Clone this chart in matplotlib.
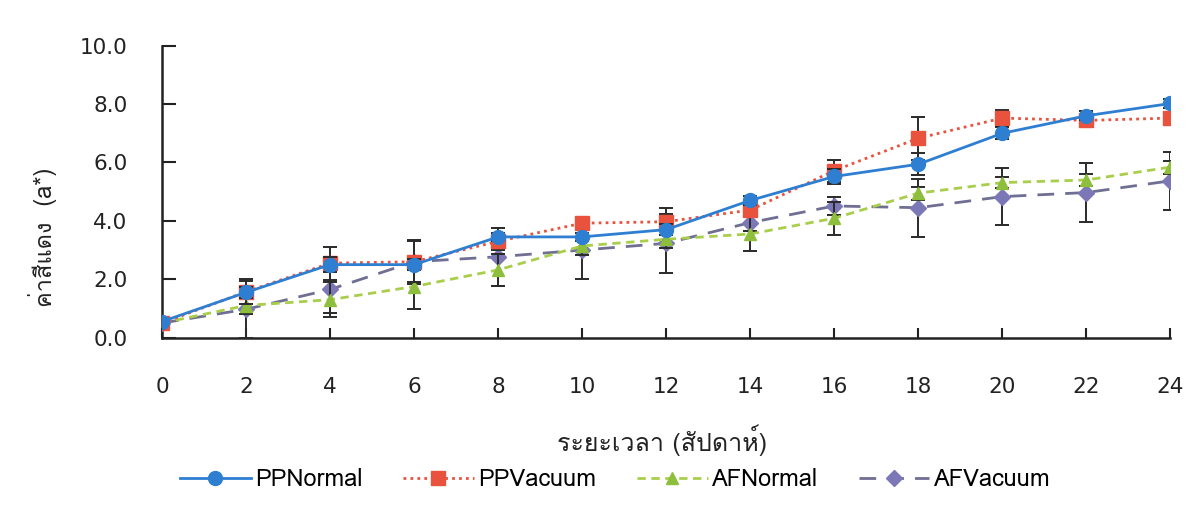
import matplotlib
matplotlib.use("Agg")
import matplotlib.pyplot as plt
from matplotlib import font_manager as fm
from matplotlib.ft2font import FT2Font
from matplotlib.lines import Line2D

# ---------------- data ----------------
weeks = [0, 2, 4, 6, 8, 10, 12, 14, 16, 18, 20, 22, 24]
xtick_labels = ["0", "2", "4", "6", "8", "10", "12", "14", "16", "18", "20", "22", "24"]

pp_normal = [0.55, 1.55, 2.5, 2.5, 3.45, 3.45, 3.7, 4.7, 5.52, 5.94, 7.0, 7.6, 8.02]
pp_vacuum = [0.5, 1.57, 2.55, 2.6, 3.3, 3.92, 3.97, 4.37, 5.72, 6.83, 7.52, 7.44, 7.52]
af_normal = [0.5, 1.1, 1.3, 1.75, 2.32, 3.14, 3.37, 3.55, 4.09, 4.95, 5.31, 5.4, 5.84]
af_vacuum = [0.5, 0.97, 1.65, 2.6, 2.77, 3.0, 3.23, 3.94, 4.51, 4.45, 4.83, 4.97, 5.37]

pp_normal_err = [0.05, 0.2, 0.25, 0.2, 0.15, 0.15, 0.2, 0.15, 0.25, 0.37, 0.2, 0.15, 0.15]
pp_vacuum_err = [0.05, 0.43, 0.57, 0.7, 0.3, 0.2, 0.46, 0.2, 0.38, 0.74, 0.28, 0.15, 0.15]
af_normal_err = [0.05, 0.3, 0.6, 0.78, 0.55, 0.3, 0.3, 0.6, 0.57, 0.22, 0.2, 0.2, 0.22]
af_vacuum_err = [0.05, 0.97, 0.8, 0.75, 1.0, 1.0, 1.0, 0.3, 0.3, 1.0, 0.97, 1.02, 1.0]

series_names = ["PPNormal", "PPVacuum", "AFNormal", "AFVacuum"]
y_ticks = [0, 2, 4, 6, 8, 10]
y_tick_labels = ["0.0", "2.0", "4.0", "6.0", "8.0", "10.0"]
x_label = "ระยะเวลา (สัปดาห์)"
y_label = "ค่าสีแดง  (a*)"


# ---------------- font with Thai glyphs ----------------
def find_thai_font():
    preferred = ["Loma", "Noto Sans Thai", "Noto Sans Thai UI", "Garuda", "Kinnari",
                 "Norasi", "Sarabun", "TH Sarabun New", "Tahoma", "Leelawadee UI"]
    found = []
    for f in fm.fontManager.ttflist:
        try:
            ft = FT2Font(f.fname)
            if ft.get_char_index(0x0E04) and ft.get_char_index(0x0E2A):
                found.append(f.name)
        except Exception:
            pass
    for p in preferred:
        if p in found:
            return p
    return found[0] if found else None


thai = find_thai_font()
base = "DejaVu Sans"
fam = [thai, base] if thai else [base]
plt.rcParams["font.family"] = fam

# ---------------- figure ----------------
fig = plt.figure(figsize=(12.04, 5.24), dpi=100)
ax = fig.add_axes([0.1346, 0.3557, 0.8375, 0.5571])

c_blue = "#2E7FD1"
c_red = "#E9533E"
c_green = "#A8CE4C"
c_green_m = "#8DBE3C"
c_purple = "#7C78B8"
c_purple_line = "#6F6E93"

ekw = dict(ecolor="#2a2a2a", elinewidth=1.4, capsize=5, capthick=1.4)

styles = {
    "AFVacuum": dict(color=c_purple_line, linestyle=(0, (6, 4)), linewidth=2, marker="D",
                     markersize=8, markerfacecolor=c_purple, markeredgecolor=c_purple),
    "AFNormal": dict(color=c_green, linestyle=(0, (3, 2)), linewidth=2, marker="^",
                     markersize=9, markerfacecolor=c_green_m, markeredgecolor=c_green_m),
    "PPVacuum": dict(color=c_red, linestyle=(0, (1, 1.5)), linewidth=2, marker="s",
                     markersize=10, markerfacecolor=c_red, markeredgecolor=c_red),
    "PPNormal": dict(color=c_blue, linestyle="-", linewidth=2, marker="o",
                     markersize=10, markerfacecolor=c_blue, markeredgecolor=c_blue),
}

ax.errorbar(weeks, af_vacuum, yerr=af_vacuum_err, zorder=3, **styles["AFVacuum"], **ekw)
ax.errorbar(weeks, af_normal, yerr=af_normal_err, zorder=4, **styles["AFNormal"], **ekw)
ax.errorbar(weeks, pp_vacuum, yerr=pp_vacuum_err, zorder=5, **styles["PPVacuum"], **ekw)
ax.errorbar(weeks, pp_normal, yerr=pp_normal_err, zorder=6, **styles["PPNormal"], **ekw)

ax.set_xlim(0, 24)
ax.set_ylim(0, 10)
ax.set_xticks(weeks)
ax.set_xticklabels(xtick_labels, fontsize=15.5, family="DejaVu Sans")
ax.set_yticks(y_ticks)
ax.set_yticklabels(y_tick_labels, fontsize=15.5, family="DejaVu Sans")
ax.tick_params(axis="x", direction="in", length=7, width=1.5, pad=28, colors="#222222")
ax.tick_params(axis="y", direction="in", length=10, width=1.5, pad=25, colors="#222222")

for s in ["top", "right"]:
    ax.spines[s].set_visible(False)
for s in ["left", "bottom"]:
    ax.spines[s].set_linewidth(1.8)
    ax.spines[s].set_color("#222222")

fig.text(0.55, 0.16, x_label, ha="center", va="center", fontsize=18, color="#222222")
fig.text(0.035, 0.548, y_label, ha="center", va="center", rotation=90, fontsize=17,
         color="#222222")

handles = [Line2D([0], [0], **styles[n]) for n in series_names]
leg = fig.legend(handles, series_names,
                 loc="center", bbox_to_anchor=(0.511, 0.085), ncol=4, frameon=False,
                 fontsize=17, handlelength=3.0, columnspacing=1.7, handletextpad=0.2)

fig.savefig("out.png", dpi=100, facecolor="white")
